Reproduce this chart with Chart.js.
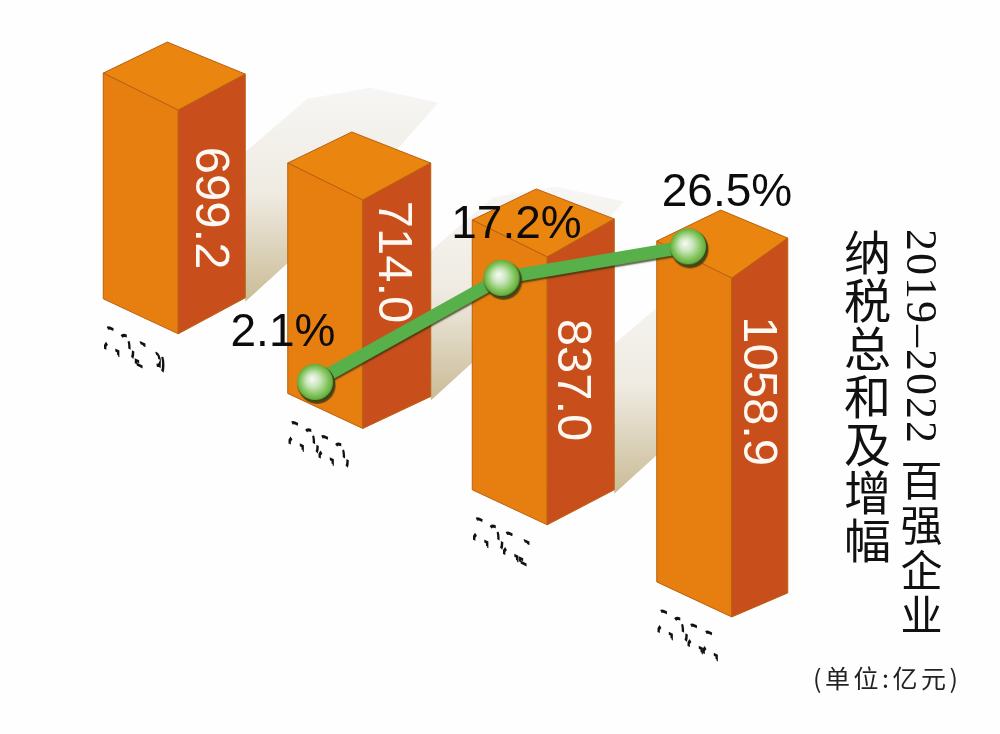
<!DOCTYPE html>
<html>
<head>
<meta charset="utf-8">
<script src="https://cdn.jsdelivr.net/npm/chart.js@4"></script>
<style>
body { margin: 0; background: #fefefe; }
#wrap { position: relative; width: 1000px; height: 734px; overflow: hidden; }
.vtext { position: absolute; writing-mode: vertical-rl; white-space: nowrap; color: #111; line-height: 1; }
#title { left: 844px; top: 229px; font: 400 47px/1 "Noto Sans CJK SC", sans-serif; letter-spacing: 1px; }
#sub { left: 899px; top: 229px; font: 400 44px/1 "Liberation Serif", serif; letter-spacing: 2px; }
#sub span { font-family: "Noto Sans CJK SC", sans-serif; letter-spacing: 3px; font-size: 42px; margin-top: 14px; }
#unit { position: absolute; left: 813px; top: 662px; color: #222; white-space: nowrap;
  font: 400 25px/1.2 "Noto Sans CJK SC", sans-serif; letter-spacing: 3.5px; }
</style>
</head>
<body>
<div id="wrap">
  <canvas id="myChart1" width="1000" height="734"></canvas>
  <div class="vtext" id="title">纳税总和及增幅</div>
  <div class="vtext" id="sub">2019–2022<span>百强企业</span></div>
  <div id="unit">(单位:亿元)</div>
</div>
<script>
//------------------ data ------------------//
const categories = ['2019', '2020', '2021', '2022']
const taxTotal = [699.2, 714.0, 837.0, 1058.9]      // 亿元
const growth = [null, 2.1, 17.2, 26.5]              // %
const hangFrom = [344, 625, 803, 869]               // where each bar starts on the hanging axis
//------------------------------------------//

const C_TOP = '#ea8510'
const C_LEFT = '#e67e10'
const C_RIGHT = '#c84f1c'
const C_EDGE = '#b9610f'

// right face differs a bit per bar: width, rise at top, rise at bottom
const RIGHT_W = [67, 68, 67, 56]
const RIGHT_TOP = [36, 37, 38, 40]
const RIGHT_BOT = [36, 32, 35, 24]
// value text position on the right face, from the ridge top
const VALUE_DX = [31, 30, 24, 26]
const VALUE_DY = [98, 62, 123, 113]
// percent text position, from the ball
const PCT_DX = [0, -32, 15, 39]
const PCT_DY = [0, -36, -40, -40]

// axis for the line: the picture spaces the growth values on a compressed scale
class PowerScale extends Chart.LinearScale {
    static id = 'power'
    static defaults = Chart.LinearScale.defaults
    f(v) {
        return Math.sign(v) * Math.pow(Math.abs(v), 0.32)
    }
    getPixelForValue(value) {
        if (value === null || value === undefined) return NaN
        return this.getPixelForDecimal((this.f(value) - this.f(this.min)) / (this.f(this.max) - this.f(this.min)))
    }
}
Chart.register(PowerScale)

function poly(ctx, pts, fill) {
    ctx.beginPath()
    pts.forEach((p, i) => i == 0 ? ctx.moveTo(p[0], p[1]) : ctx.lineTo(p[0], p[1]))
    ctx.closePath()
    ctx.fillStyle = fill
    ctx.fill()
}

function face(ctx, pts, fill) {
    poly(ctx, pts, fill)
    ctx.strokeStyle = C_EDGE
    ctx.lineWidth = 1
    ctx.stroke()
}

function makeBall() {
    const c = document.createElement('canvas')
    c.width = 48
    c.height = 48
    const g = c.getContext('2d')
    g.beginPath()
    g.arc(25.5, 25.5, 18.5, 0, Math.PI * 2)
    g.fillStyle = '#3d4718'
    g.fill()
    const rg = g.createRadialGradient(21, 21, 1, 24, 24, 18)
    rg.addColorStop(0, '#f3f8ef')
    rg.addColorStop(0.35, '#cbe6bd')
    rg.addColorStop(0.75, '#84c65e')
    rg.addColorStop(1, '#62ab3c')
    g.beginPath()
    g.arc(24, 24, 18, 0, Math.PI * 2)
    g.fillStyle = rg
    g.fill()
    return c
}

/*--------------------------------------------------------------------
draws the bars as blocks from the bar elements, with their shadows
--------------------------------------------------------------------*/
const blockPlugin = {
    id: 'blocks',
    beforeDatasetDraw(chart, args) {
        const ctx = chart.ctx
        if (args.index == 1) {
            ctx.save()
            ctx.shadowColor = 'rgba(45,50,15,0.75)'
            ctx.shadowOffsetX = 0.5
            ctx.shadowOffsetY = 2
            ctx.shadowBlur = 1.5
            return
        }
        const bars = args.meta.data
        // shadows first, later bars cover them
        bars.forEach((b, i) => {
            if (i == 3) return
            const r = b.x + 4 + RIGHT_W[i]
            const bt = Math.max(b.y, b.base) - RIGHT_BOT[i]
            const g = ctx.createLinearGradient(0, bt - 210, 0, bt)
            g.addColorStop(0, '#f7f6f4')
            g.addColorStop(0.5, '#efebe2')
            g.addColorStop(1, '#cbbd98')
            ctx.save()
            if (i == 2) {
                // last one stops behind the 2022 bar
                ctx.beginPath()
                ctx.rect(r - 4, 0, bars[3].x - r, chart.height)
                ctx.clip()
            }
            poly(ctx, [[r - 2, bt - 144], [r + 62, bt - 199], [r + 125, bt - 210], [r + 193, bt - 195],
                [r + 155, bt - 152], [r + 45, bt - 37], [r, bt + 4]], g)
            ctx.restore()
        })
        bars.forEach((b, i) => {
            const top = Math.min(b.y, b.base)
            const bot = Math.max(b.y, b.base)
            const ridge = b.x + 4
            const l = ridge - 75
            const r = ridge + RIGHT_W[i]
            face(ctx, [[l, top - 37], [ridge - 11, top - 68], [r, top - RIGHT_TOP[i]], [ridge, top]], C_TOP)
            face(ctx, [[l, top - 37], [ridge, top], [ridge, bot], [l, bot - 35]], C_LEFT)
            face(ctx, [[ridge, top], [r, top - RIGHT_TOP[i]], [r, bot - RIGHT_BOT[i]], [ridge, bot]], C_RIGHT)

            // value along the right face
            ctx.save()
            ctx.translate(ridge + VALUE_DX[i], top + VALUE_DY[i])
            ctx.rotate(Math.PI / 2)
            ctx.fillStyle = '#fdf8f2'
            ctx.font = '49px "Liberation Sans"'
            ctx.textAlign = 'center'
            ctx.textBaseline = 'middle'
            ctx.fillText(taxTotal[i].toFixed(1), 0, 0)
            ctx.restore()

            // year under the bar, the print has almost lost it so only bits of the outline stay
            ctx.save()
            ctx.transform(1, 0.47, 0, 1.25, l + 1, bot + 15)
            ctx.font = 'bold 27px "Liberation Sans"'
            ctx.strokeStyle = '#111'
            ctx.lineWidth = 2.4
            ctx.setLineDash([6, 27])
            ctx.strokeText(categories[i], 0, 0)
            ctx.restore()
        })
        return false
    },
    afterDatasetDraw(chart, args) {
        if (args.index == 1) chart.ctx.restore()
    },
    afterDatasetsDraw(chart) {
        const ctx = chart.ctx
        const pts = chart.getDatasetMeta(1).data
        ctx.save()
        ctx.fillStyle = '#0c0c0c'
        ctx.font = '46px "Liberation Sans"'
        ctx.textAlign = 'center'
        ctx.textBaseline = 'alphabetic'
        growth.forEach((v, i) => {
            if (v === null) return
            ctx.fillText(v.toFixed(1) + '%', pts[i].x + PCT_DX[i], pts[i].y + PCT_DY[i])
        })
        ctx.restore()
    }
}

new Chart(document.getElementById('myChart1'), {
    type: 'bar',
    plugins: [blockPlugin],
    data: {
        labels: categories,
        datasets: [
            {
                type: 'bar',
                order: 1,
                grouped: false,
                xAxisID: 'x',
                yAxisID: 'y',
                barThickness: 142,
                data: taxTotal.map((v, i) => [hangFrom[i], hangFrom[i] + v]),
                backgroundColor: C_LEFT
            },
            {
                type: 'line',
                order: 0,
                xAxisID: 'xg',
                yAxisID: 'yg',
                data: growth.map((v, i) => ({ x: i, y: v })),
                borderColor: '#58b04a',
                borderWidth: 13,
                borderCapStyle: 'round',
                tension: 0,
                clip: false,
                pointStyle: makeBall(),
                pointRadius: 18
            }
        ]
    },
    options: {
        responsive: false,
        animation: false,
        events: [],
        layout: { autoPadding: false, padding: { left: 82, right: 180, top: 0, bottom: 0 } },
        plugins: { legend: { display: false }, tooltip: { enabled: false } },
        scales: {
            x: { display: false, offset: true },
            y: { display: false, reverse: true, bounds: 'data', min: 0, max: 2293.75 },
            xg: { type: 'linear', axis: 'x', display: false, offset: false, bounds: 'data', min: -0.249, max: 3.708 },
            yg: { type: 'power', axis: 'y', display: false, bounds: 'data', min: -26.4, max: 234.7 }
        }
    }
})
</script>
</body>
</html>
